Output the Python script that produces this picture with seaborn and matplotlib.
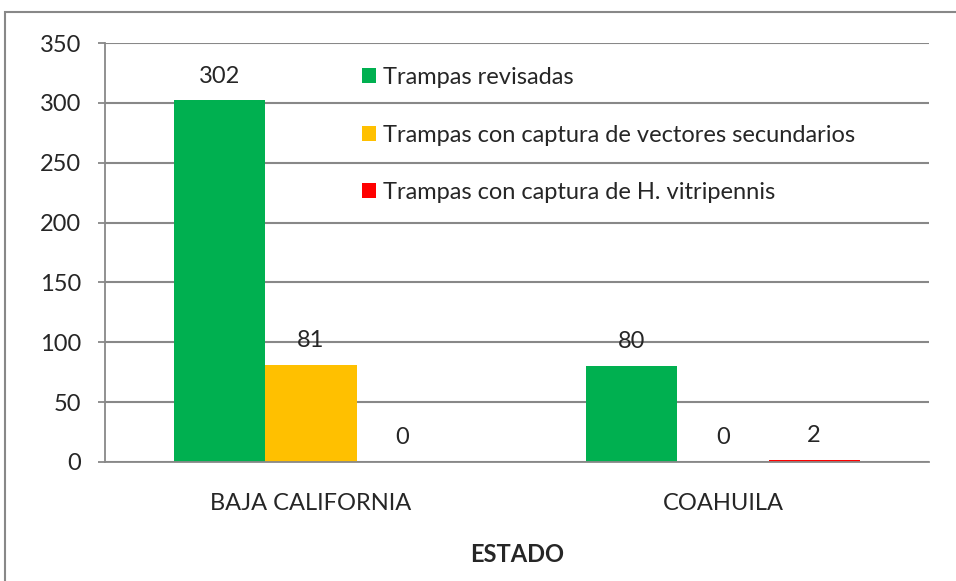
import matplotlib
matplotlib.use("Agg")
import matplotlib.pyplot as plt
import seaborn as sns
import pandas as pd
from matplotlib.patches import Rectangle, Patch

estados = ["BAJA CALIFORNIA", "COAHUILA"]
series = ["Trampas revisadas",
          "Trampas con captura de vectores secundarios",
          "Trampas con captura de H. vitripennis"]
revisadas = [302, 80]
vectores = [81, 0]
vitripennis = [0, 2]
colores = ["#00B050", "#FFC000", "#FF0000"]
yticks = [0, 50, 100, 150, 200, 250, 300, 350]

rows = []
for s, vals in zip(series, [revisadas, vectores, vitripennis]):
    for e, v in zip(estados, vals):
        rows.append({"ESTADO": e, "Serie": s, "Valor": v})
df = pd.DataFrame(rows)

sns.set_style("white")
plt.rcParams['font.family'] = ['Lato', 'DejaVu Sans']
FS = 17

fig = plt.figure(figsize=(9.56, 5.81), dpi=100)
ax = fig.add_axes([105/956, 1-462/581, (929-105)/956, (462-43)/581])

sns.barplot(data=df, x="ESTADO", y="Valor", hue="Serie", hue_order=series,
            order=estados, palette=colores, width=0.663, saturation=1,
            ax=ax, legend=False, linewidth=0, errorbar=None)

ax.set_ylim(0, 350)
ax.set_xlim(-0.5, 1.5)
ax.set_yticks(yticks)
ax.set_yticklabels([str(t) for t in yticks], fontsize=FS)
ax.yaxis.grid(True, color="#888888", linewidth=1.5)
ax.set_axisbelow(True)
for s in ["top", "right"]:
    ax.spines[s].set_visible(False)
for s in ["left", "bottom"]:
    ax.spines[s].set_color("#888888")
    ax.spines[s].set_linewidth(1.3)
ax.tick_params(axis="y", length=5, color="#888888", width=1.3, pad=12, left=True)
ax.tick_params(axis="x", length=0, pad=22, labelsize=FS)
ax.set_ylabel("")
ax.set_xlabel("ESTADO", fontsize=FS, fontweight="bold", labelpad=21)

for cont in ax.containers:
    labels = [f"{int(b.get_height())}" for b in cont]
    ax.bar_label(cont, labels=labels, padding=10, fontsize=FS)

handles = [Patch(facecolor=c, edgecolor="none") for c in colores]
ax.legend(handles, series, loc="upper left", bbox_to_anchor=(0.30, 0.965),
          frameon=False, fontsize=FS, handlelength=0.6, handleheight=0.6,
          handletextpad=0.3, labelspacing=1.55, borderaxespad=0)

fig.patches.append(Rectangle((5/956, -0.05), 1.2, 1 - 12/581 + 0.05,
                             transform=fig.transFigure, fill=False,
                             edgecolor="#888888", linewidth=1.5))

fig.savefig("out.png", dpi=100)
